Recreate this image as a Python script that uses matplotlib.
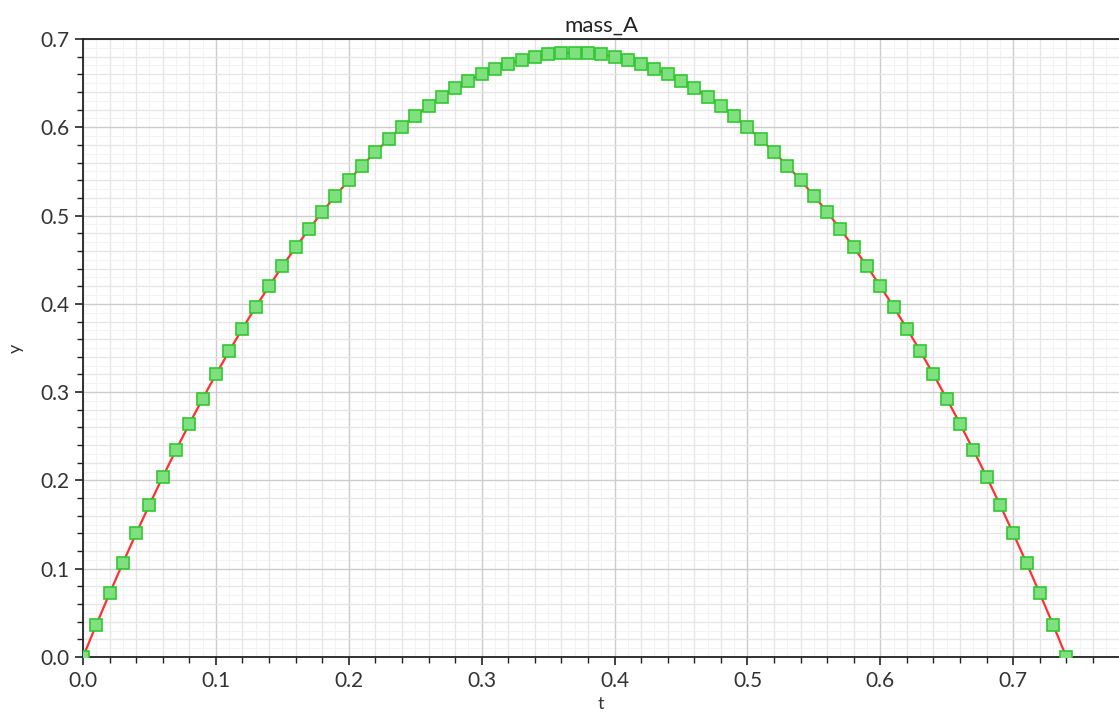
import matplotlib.pyplot as plt
from matplotlib.ticker import MultipleLocator

plt.rcParams['font.family'] = ['Lato', 'DejaVu Sans']

# time samples and height of mass_A
t = [round(i * 0.01, 2) for i in range(75)]
y = [0.000, 0.0365, 0.072, 0.1065, 0.140, 0.1725, 0.204, 0.2345, 0.264, 0.2925,
     0.320, 0.3465, 0.372, 0.3965, 0.420, 0.4425, 0.464, 0.4845, 0.504, 0.5225,
     0.540, 0.5565, 0.572, 0.5865, 0.600, 0.6125, 0.624, 0.6345, 0.644, 0.6525,
     0.660, 0.6665, 0.672, 0.6765, 0.680, 0.6825, 0.684, 0.6845, 0.684, 0.6825,
     0.680, 0.6765, 0.672, 0.6665, 0.660, 0.6525, 0.644, 0.6345, 0.624, 0.6125,
     0.600, 0.5865, 0.572, 0.5565, 0.540, 0.5225, 0.504, 0.4845, 0.464, 0.4425,
     0.420, 0.3965, 0.372, 0.3465, 0.320, 0.2925, 0.264, 0.2345, 0.204, 0.1725,
     0.140, 0.1065, 0.072, 0.0365, 0.000]

fig = plt.figure(figsize=(11.19, 7.13), dpi=100)
ax = fig.add_axes([83 / 1119, 56 / 713, 1 - 83 / 1119, (657 - 39) / 713])

ax.plot(t, y, color='#ff3030', linewidth=1.6, zorder=3)
ax.plot(t, y, linestyle='none', marker='s', markersize=8,
        markerfacecolor='#80e080', markeredgecolor='#30c830',
        markeredgewidth=1.2, zorder=4)

ax.set_xlim(0, 0.7796)
ax.set_ylim(0, 0.7)
ax.xaxis.set_major_locator(MultipleLocator(0.1))
ax.xaxis.set_minor_locator(MultipleLocator(0.02))
ax.yaxis.set_major_locator(MultipleLocator(0.1))
ax.yaxis.set_minor_locator(MultipleLocator(0.02))
ax.xaxis.set_major_formatter(lambda v, p: f'{v:.1f}')
ax.yaxis.set_major_formatter(lambda v, p: f'{v:.1f}')

# fine background grid
for v in [i * 0.01 for i in range(1, 78)]:
    ax.axvline(v, color='#f3f3f3', linewidth=0.8, zorder=0)
for v in [i * 0.01 for i in range(1, 70)]:
    ax.axhline(v, color='#f3f3f3', linewidth=0.8, zorder=0)
ax.grid(which='minor', color='#e6e6e6', linewidth=0.9, zorder=1)
ax.grid(which='major', color='#cccccc', linewidth=1.0, zorder=1)
ax.set_axisbelow(True)

ax.spines['right'].set_visible(False)
for s in ['left', 'bottom', 'top']:
    ax.spines[s].set_color('#222222')
    ax.spines[s].set_linewidth(1.3)

ax.tick_params(which='major', length=6, width=1.2, color='#222222',
               labelsize=15, labelcolor='#333333', pad=4)
ax.tick_params(which='minor', length=4, width=1.0, color='#222222')

ax.set_title('mass_A', fontsize=16, color='#222222', pad=5)
ax.set_xlabel('t', fontsize=13, color='#333333', labelpad=4)
ax.set_ylabel('y', fontsize=13, color='#333333', labelpad=12)

fig.savefig('out.png', dpi=100)
